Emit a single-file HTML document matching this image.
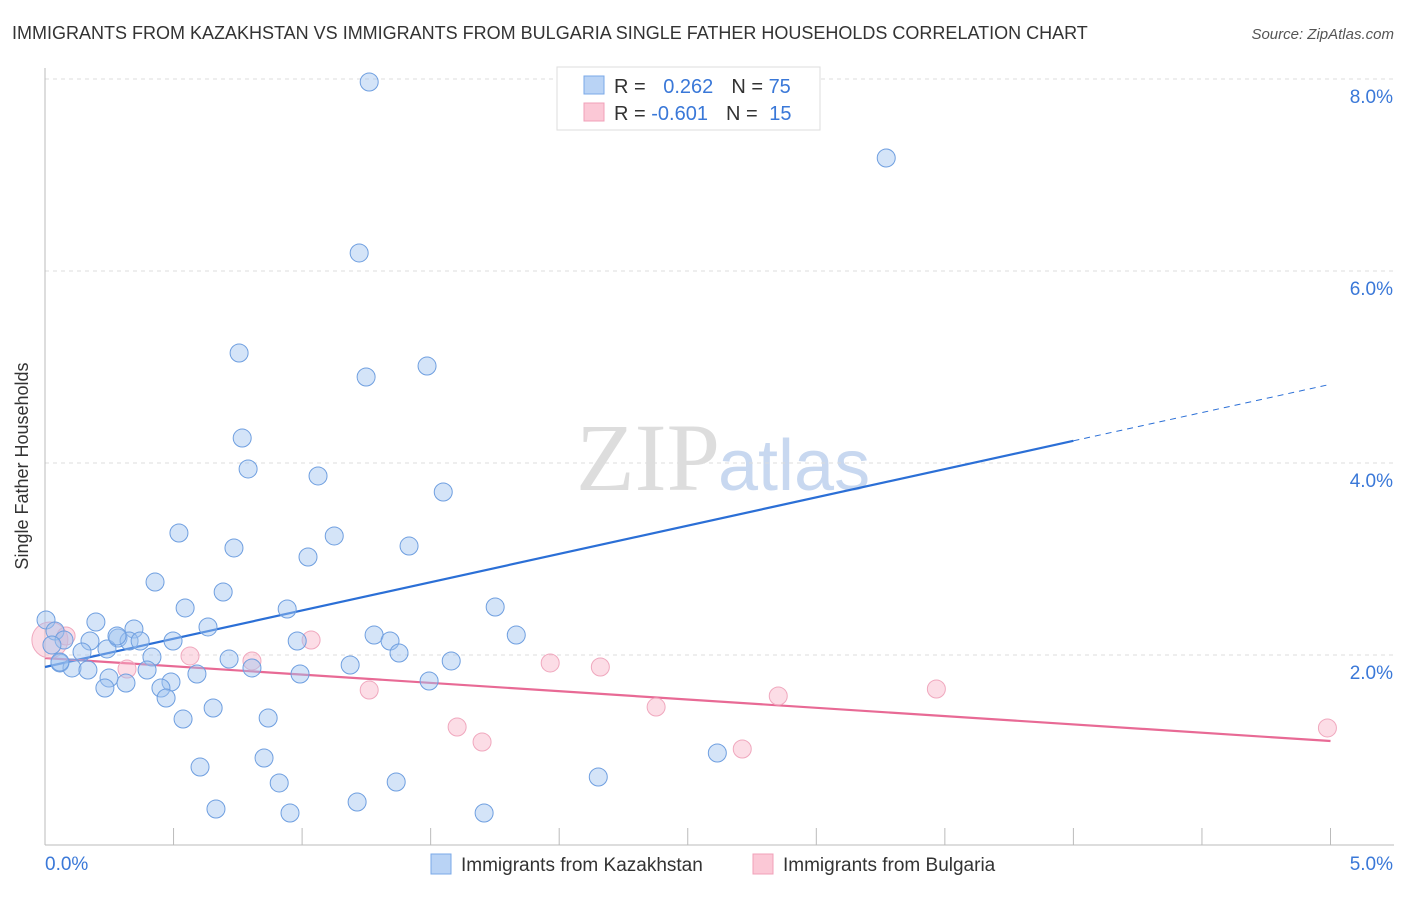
<!DOCTYPE html>
<html><head><meta charset="utf-8"><style>
body{margin:0;background:#fff;font-family:"Liberation Sans",sans-serif}
</style></head><body>
<svg width="1406" height="892" xmlns="http://www.w3.org/2000/svg" style="font-family:'Liberation Sans',sans-serif">
<text x="12" y="39" font-size="18" fill="#333">IMMIGRANTS FROM KAZAKHSTAN VS IMMIGRANTS FROM BULGARIA SINGLE FATHER HOUSEHOLDS CORRELATION CHART</text>
<text x="1394" y="39" font-size="15" fill="#555" font-style="italic" text-anchor="end">Source: ZipAtlas.com</text>
<text x="720" y="490" font-size="96" fill="#ddd" text-anchor="end" font-family="'Liberation Serif',serif">ZIP</text>
<text x="718" y="490" font-size="72" fill="#c8d8f0">atlas</text>
<g id="grid"></g>
<line x1="45" y1="68" x2="45" y2="845" stroke="#bbb"/>
<line x1="45" y1="845" x2="1394" y2="845" stroke="#bbb"/>
<g id="xticks"></g>
<text x="18" y="456" font-size="18" fill="#333" text-anchor="middle" transform="rotate(-90 28 456)">Single Father Households</text>
<g id="trends"></g>
<g id="points"></g>
<g>
<rect x="557" y="67" width="263" height="63" fill="#fff" stroke="#ddd"/>
<rect x="584" y="76" width="20" height="18" fill="#b9d3f5" stroke="#7aa8e8"/>
<rect x="584" y="103" width="20" height="18" fill="#fbc8d6" stroke="#f0a0b8"/>
<text x="614" y="93" font-size="20" fill="#333">R = <tspan fill="#3a78d8" dx="12">0.262</tspan><tspan dx="18" fill="#333">N = </tspan><tspan fill="#3a78d8">75</tspan></text>
<text x="614" y="120" font-size="20" fill="#333">R = <tspan fill="#3a78d8">-0.601</tspan><tspan dx="18" fill="#333">N = </tspan><tspan fill="#3a78d8" dx="6">15</tspan></text>
</g>
<g>
<rect x="431" y="854" width="20" height="20" fill="#b9d3f5" stroke="#7aa8e8"/>
<text x="461" y="871" font-size="19" fill="#333">Immigrants from Kazakhstan</text>
<rect x="753" y="854" width="20" height="20" fill="#fbc8d6" stroke="#f0a0b8"/>
<text x="783" y="871" font-size="19" fill="#333">Immigrants from Bulgaria</text>
</g>
<text x="45" y="870" font-size="19" fill="#3a78d8">0.0%</text>
<text x="1393" y="870" font-size="19" fill="#3a78d8" text-anchor="end">5.0%</text>
</svg>
<script>
const blueX=[1.261,3.272,1.222,0.755,1.249,1.486,0.767,0.790,1.062,1.549,0.521,1.125,0.735,1.416,1.023,0.428,0.693,0.545,0.942,1.751,0.198,0.634,0.346,0.004,0.039,0.074,0.175,0.284,0.327,0.370,0.498,0.981,1.280,1.342,1.833,1.377,0.144,0.241,0.027,0.416,0.716,1.580,0.058,0.105,0.167,1.187,0.805,0.397,0.591,0.992,0.249,0.490,0.315,0.451,0.233,1.494,0.471,0.654,0.537,0.868,0.852,0.603,2.615,0.911,1.366,2.152,0.665,0.953,1.214,1.708,0.280,0.058];
const blueY=[7.969,7.177,6.188,5.146,4.896,5.010,4.260,3.938,3.865,3.698,3.271,3.240,3.115,3.135,3.021,2.760,2.656,2.490,2.479,2.500,2.344,2.292,2.271,2.365,2.250,2.156,2.146,2.177,2.146,2.146,2.146,2.146,2.208,2.146,2.208,2.021,2.031,2.063,2.104,1.979,1.958,1.938,1.917,1.865,1.844,1.896,1.865,1.844,1.802,1.802,1.760,1.719,1.708,1.656,1.656,1.729,1.552,1.448,1.333,1.344,0.927,0.833,0.979,0.667,0.677,0.729,0.396,0.354,0.469,0.354,2.198,1.927];
const pinkX=[0.019,0.082,0.319,0.564,0.805,1.035,1.261,1.603,1.700,1.965,2.160,2.377,2.712,2.852,3.467,4.988];
const pinkY=[2.156,2.198,1.854,1.990,1.938,2.156,1.635,1.250,1.094,1.917,1.875,1.458,1.021,1.573,1.646,1.240];
const yTicks=[2,4,6,8];
const yTickLabels=["2.0%","4.0%","6.0%","8.0%"];
const xTicks=[0.5,1,1.5,2,2.5,3,3.5,4,4.5,5];
const blueTrend=[1.875,0.589]; // intercept, slope
const pinkTrend=[1.969,-0.173];
const NS="http://www.w3.org/2000/svg";
const sx=v=>45+v*257.1, sy=v=>847-v*96;
function mk(t,a,p){const e=document.createElementNS(NS,t);for(const k in a)e.setAttribute(k,a[k]);p.appendChild(e);return e;}
const grid=document.getElementById('grid');
yTicks.forEach((t,i)=>{
 const l=mk('line',{x1:45,x2:1394,y1:sy(t),y2:sy(t),stroke:'#ddd','stroke-dasharray':'4,4'},grid);
 
 
 const tx=mk('text',{x:1393,y:sy(t)+24,'font-size':19,fill:'#3a78d8','text-anchor':'end'},grid);
 tx.textContent=yTickLabels[i];
 
 
});
const xt=document.getElementById('xticks');
xTicks.forEach(t=>{
 const l=mk('line',{x1:sx(t),x2:sx(t),y1:828,y2:845,stroke:'#bbb'},xt);
 
 
});
const tr=document.getElementById('trends');
let b=mk('line',{x1:sx(0),y1:sy(blueTrend[0]),x2:sx(4),y2:sy(blueTrend[0]+4*blueTrend[1]),stroke:'#2b6fd6','stroke-width':2.2},tr);


b=mk('line',{x1:sx(4),y1:sy(blueTrend[0]+4*blueTrend[1]),x2:sx(5),y2:sy(blueTrend[0]+5*blueTrend[1]),stroke:'#2b6fd6','stroke-width':1,'stroke-dasharray':'6,5'},tr);


b=mk('line',{x1:sx(0),y1:sy(pinkTrend[0]),x2:sx(5),y2:sy(pinkTrend[0]+5*pinkTrend[1]),stroke:'#e86a95','stroke-width':2.2},tr);


const pts=document.getElementById('points');
pinkX.forEach((x,i)=>{
 const c=mk('circle',{cx:sx(x),cy:sy(pinkY[i]),r:i==0?18:9,fill:'rgba(248,180,200,0.45)',stroke:'#f0a8be','stroke-width':1},pts);
 
 
});
blueX.forEach((x,i)=>{
 const c=mk('circle',{cx:sx(x),cy:sy(blueY[i]),r:9,fill:'rgba(160,195,240,0.45)',stroke:'#6f9fe0','stroke-width':1},pts);
 
 
});
</script>
</body></html>
